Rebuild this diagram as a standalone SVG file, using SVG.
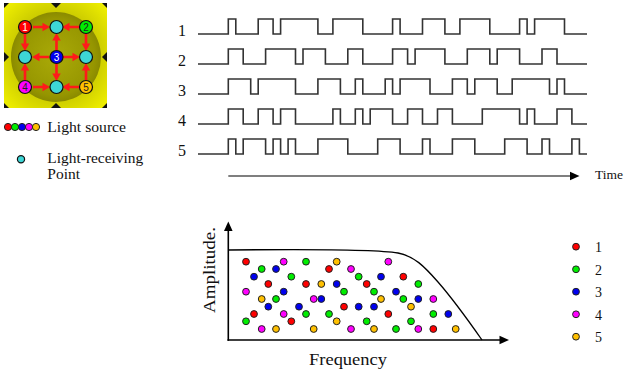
<svg xmlns="http://www.w3.org/2000/svg" width="627" height="375" viewBox="0 0 627 375">
<style>
.sig{fill:none;stroke:#333;stroke-width:1.6;stroke-linejoin:miter}
.lbl{font-family:"Liberation Serif","DejaVu Serif",serif;fill:#111}
.nd{stroke:#111;stroke-width:1.2}
.rx{fill:#3dd6d6;stroke:#111;stroke-width:1.2}
.dot{stroke:#222;stroke-width:1}
.r{fill:#ff0000}.g{fill:#00ee00}.b{fill:#0000ee}.m{fill:#ff00ff}.o{fill:#ffc000}
.nt{font-family:"Liberation Sans",Arial,sans-serif;font-size:10px;text-anchor:middle}
.ax{stroke:#000;stroke-width:1.6;fill:none}
</style>
<defs>
<radialGradient id="bg" cx="50%" cy="50%" r="70%">
<stop offset="0" stop-color="#a8a800"/>
<stop offset="0.55" stop-color="#c8c800"/>
<stop offset="1" stop-color="#f2f200"/>
</radialGradient>
<radialGradient id="cg" cx="50%" cy="50%" r="50%">
<stop offset="0" stop-color="#aaaa08"/>
<stop offset="0.85" stop-color="#969600"/>
<stop offset="1" stop-color="#8a8a00"/>
</radialGradient>
<path id="ar" d="M-8,-1.3 H1.5 V-4.2 L9,0 L1.5,4.2 V1.3 H-8 Z" fill="#ff1a1a"/>
</defs>

<g id="panel">
<rect x="4" y="3" width="103" height="105" fill="url(#bg)"/>
<circle cx="56" cy="57" r="45" fill="url(#cg)"/>
<g fill="#111">
<path d="M51,3 L61,3 L56,8 Z"/>
<path d="M51,108 L61,108 L56,103 Z"/>
<path d="M4,52 L4,62 L9,57 Z"/>
<path d="M107,52 L107,62 L102,57 Z"/>
<path d="M4,3 L9,3 L4,8 Z"/>
<path d="M107,3 L102,3 L107,8 Z"/>
<path d="M4,108 L9,108 L4,103 Z"/>
<path d="M107,108 L102,108 L107,103 Z"/>
</g>
</g>

<g id="connectors">
<use href="#ar" transform="translate(41,27)"/>
<use href="#ar" transform="translate(71,27) rotate(180)"/>
<use href="#ar" transform="translate(25,42) rotate(90)"/>
<use href="#ar" transform="translate(86,42) rotate(90)"/>
<use href="#ar" transform="translate(56.5,42) rotate(-90)"/>
<use href="#ar" transform="translate(56.5,72) rotate(90)"/>
<use href="#ar" transform="translate(41,57) rotate(180)"/>
<use href="#ar" transform="translate(71,57)"/>
<use href="#ar" transform="translate(25,72) rotate(-90)"/>
<use href="#ar" transform="translate(41,87)"/>
<use href="#ar" transform="translate(86,72) rotate(-90)"/>
<use href="#ar" transform="translate(71,87) rotate(180)"/>
</g>

<g id="rx1"><circle class="rx" cx="56.5" cy="27" r="6.5"/></g>
<g id="rx2"><circle class="rx" cx="25" cy="57" r="6.5"/></g>
<g id="rx3"><circle class="rx" cx="86" cy="57" r="6.5"/></g>
<g id="rx4"><circle class="rx" cx="56.5" cy="87" r="6.5"/></g>
<g id="src1"><circle class="nd r" cx="25" cy="27" r="6.5"/><text class="nt" x="25" y="30.5" fill="#fff">1</text></g>
<g id="src2"><circle class="nd g" cx="86" cy="27" r="6.5"/><text class="nt" x="86" y="30.5" fill="#222">2</text></g>
<g id="src3"><circle class="nd b" cx="56.5" cy="57" r="6.5"/><text class="nt" x="56.5" y="60.5" fill="#fff">3</text></g>
<g id="src4"><circle class="nd m" cx="25" cy="87" r="6.5"/><text class="nt" x="25" y="90.5" fill="#222">4</text></g>
<g id="src5"><circle class="nd o" cx="86" cy="87" r="6.5"/><text class="nt" x="86" y="90.5" fill="#222">5</text></g>

<g id="legend">
<circle class="dot r" cx="8" cy="127" r="3.6"/>
<circle class="dot g" cx="15" cy="127" r="3.6"/>
<circle class="dot b" cx="22" cy="127" r="3.6"/>
<circle class="dot m" cx="29" cy="127" r="3.6"/>
<circle class="dot o" cx="36" cy="127" r="3.6"/>
<text class="lbl" x="47.3" y="131.5" font-size="14.5" textLength="78.7" lengthAdjust="spacingAndGlyphs">Light source</text>
<circle class="rx" cx="21" cy="159.3" r="3.6" stroke-width="1"/>
<text class="lbl" x="47.3" y="163.3" font-size="14.5" textLength="96" lengthAdjust="spacingAndGlyphs">Light-receiving</text>
<text class="lbl" x="47.3" y="178.5" font-size="14.5" textLength="32.7" lengthAdjust="spacingAndGlyphs">Point</text>
</g>

<g id="signals">
<text class="lbl" x="182" y="36" font-size="16" text-anchor="middle">1</text>
<text class="lbl" x="182" y="66" font-size="16" text-anchor="middle">2</text>
<text class="lbl" x="182" y="96" font-size="16" text-anchor="middle">3</text>
<text class="lbl" x="182" y="126" font-size="16" text-anchor="middle">4</text>
<text class="lbl" x="182" y="156" font-size="16" text-anchor="middle">5</text>
<path class="sig" d="M198,34 H228.3 V19 H235.8 V34 H258.2 V19 H273.1 V34 H280.6 V19 H317.9 V34 H332.9 V19 H362.8 V34 H392.6 V19 H400.1 V34 H422.5 V19 H444.9 V34 H459.9 V19 H489.8 V34 H519.6 V19 H527.1 V34 H534.6 V19 H564.5 V34 H587"/>
<path class="sig" d="M198,64 H228.3 V49 H243.2 V64 H265.6 V49 H295.5 V64 H303.0 V49 H325.4 V64 H347.8 V49 H362.8 V64 H392.6 V49 H407.6 V64 H415.1 V49 H444.9 V64 H467.3 V49 H489.8 V64 H497.2 V49 H519.6 V64 H542.0 V49 H557.0 V64 H587"/>
<path class="sig" d="M198,94 H228.3 V79 H250.7 V94 H258.2 V79 H295.5 V94 H317.9 V79 H340.4 V94 H355.3 V79 H362.8 V94 H385.2 V79 H392.6 V94 H400.1 V79 H430.0 V94 H452.4 V79 H467.3 V94 H474.8 V79 H497.2 V94 H512.2 V79 H549.5 V94 H557.0 V79 H564.5 V94 H587"/>
<path class="sig" d="M198,124 H228.3 V109 H243.2 V124 H258.2 V109 H273.1 V124 H280.6 V109 H295.5 V124 H332.9 V109 H340.4 V124 H355.3 V109 H362.8 V124 H370.2 V109 H392.6 V124 H407.6 V109 H422.5 V124 H437.5 V109 H452.4 V124 H482.3 V109 H519.6 V124 H527.1 V109 H534.6 V124 H557.0 V109 H571.9 V124 H587"/>
<path class="sig" d="M198,154 H228.3 V139 H235.8 V154 H243.2 V139 H265.6 V154 H273.1 V139 H280.6 V154 H288.1 V139 H295.5 V154 H317.9 V139 H347.8 V154 H377.7 V139 H400.1 V154 H422.5 V139 H430.0 V154 H452.4 V139 H474.8 V154 H504.7 V139 H527.1 V154 H542.0 V139 H549.5 V154 H571.9 V139 H579.4 V154 H587"/>
<line x1="228.3" y1="176" x2="571" y2="176" stroke="#000" stroke-width="1.2"/>
<path d="M579.5,176 L570,171.8 L570,180.2 Z" fill="#000"/>
<text class="lbl" x="595" y="179" font-size="13" textLength="28" lengthAdjust="spacingAndGlyphs">Time</text>
</g>

<g id="plot">
<line class="ax" x1="228.3" y1="340.8" x2="228.3" y2="230"/>
<path d="M228.3,221.5 L224,231 L232.6,231 Z" fill="#000"/>
<line class="ax" x1="227.5" y1="340" x2="500" y2="340"/>
<path d="M509,340 L499.5,335.7 L499.5,344.3 Z" fill="#000"/>
<path d="M228.3,250 C320,249 380,250 398,253 C414,256 424,266 438,282 C452,298 468,320 482,340" fill="none" stroke="#000" stroke-width="1.3"/>
<text class="lbl" transform="translate(215,270) rotate(-90)" font-size="17" text-anchor="middle" textLength="86" lengthAdjust="spacingAndGlyphs">Amplitude.</text>
<text class="lbl" x="348" y="365" font-size="17" text-anchor="middle" textLength="78" lengthAdjust="spacingAndGlyphs">Frequency</text>
<g>
<circle class="dot r" cx="246" cy="261.7" r="3.4"/>
<circle class="dot m" cx="283.7" cy="261.7" r="3.4"/>
<circle class="dot g" cx="306" cy="261.7" r="3.4"/>
<circle class="dot o" cx="336.7" cy="261.7" r="3.4"/>
<circle class="dot m" cx="388.3" cy="261.7" r="3.4"/>
<circle class="dot g" cx="261.7" cy="269" r="3.4"/>
<circle class="dot b" cx="276" cy="269" r="3.4"/>
<circle class="dot r" cx="329" cy="269" r="3.4"/>
<circle class="dot m" cx="351" cy="269" r="3.4"/>
<circle class="dot b" cx="254" cy="276.7" r="3.4"/>
<circle class="dot g" cx="291.3" cy="276.7" r="3.4"/>
<circle class="dot g" cx="358.7" cy="276.7" r="3.4"/>
<circle class="dot b" cx="381" cy="276.7" r="3.4"/>
<circle class="dot r" cx="403.3" cy="276.7" r="3.4"/>
<circle class="dot r" cx="268.3" cy="284" r="3.4"/>
<circle class="dot r" cx="306" cy="284" r="3.4"/>
<circle class="dot o" cx="321.3" cy="284" r="3.4"/>
<circle class="dot b" cx="336.7" cy="284" r="3.4"/>
<circle class="dot r" cx="366.7" cy="284" r="3.4"/>
<circle class="dot g" cx="418.3" cy="284" r="3.4"/>
<circle class="dot m" cx="246" cy="291.7" r="3.4"/>
<circle class="dot b" cx="283.7" cy="291.7" r="3.4"/>
<circle class="dot g" cx="344" cy="291.7" r="3.4"/>
<circle class="dot g" cx="374" cy="291.7" r="3.4"/>
<circle class="dot b" cx="396" cy="291.7" r="3.4"/>
<circle class="dot o" cx="261.7" cy="299" r="3.4"/>
<circle class="dot g" cx="276" cy="299" r="3.4"/>
<circle class="dot m" cx="313.7" cy="299" r="3.4"/>
<circle class="dot b" cx="321.3" cy="299" r="3.4"/>
<circle class="dot o" cx="381" cy="299" r="3.4"/>
<circle class="dot g" cx="403.3" cy="299" r="3.4"/>
<circle class="dot b" cx="418.3" cy="299" r="3.4"/>
<circle class="dot m" cx="433.3" cy="299" r="3.4"/>
<circle class="dot b" cx="268.3" cy="306.7" r="3.4"/>
<circle class="dot b" cx="299" cy="306.7" r="3.4"/>
<circle class="dot r" cx="344" cy="306.7" r="3.4"/>
<circle class="dot b" cx="358.7" cy="306.7" r="3.4"/>
<circle class="dot b" cx="374" cy="306.7" r="3.4"/>
<circle class="dot o" cx="411" cy="306.7" r="3.4"/>
<circle class="dot r" cx="254" cy="314" r="3.4"/>
<circle class="dot m" cx="283.7" cy="314" r="3.4"/>
<circle class="dot g" cx="306" cy="314" r="3.4"/>
<circle class="dot g" cx="329" cy="314" r="3.4"/>
<circle class="dot r" cx="388.3" cy="314" r="3.4"/>
<circle class="dot g" cx="433.3" cy="314" r="3.4"/>
<circle class="dot b" cx="448.3" cy="314" r="3.4"/>
<circle class="dot g" cx="246" cy="321.3" r="3.4"/>
<circle class="dot r" cx="291.3" cy="321.3" r="3.4"/>
<circle class="dot o" cx="336.7" cy="321.3" r="3.4"/>
<circle class="dot g" cx="366.7" cy="321.3" r="3.4"/>
<circle class="dot g" cx="411" cy="321.3" r="3.4"/>
<circle class="dot m" cx="261.7" cy="329" r="3.4"/>
<circle class="dot o" cx="276" cy="329" r="3.4"/>
<circle class="dot o" cx="313.7" cy="329" r="3.4"/>
<circle class="dot m" cx="351" cy="329" r="3.4"/>
<circle class="dot o" cx="374" cy="329" r="3.4"/>
<circle class="dot g" cx="396" cy="329" r="3.4"/>
<circle class="dot m" cx="418.3" cy="329" r="3.4"/>
<circle class="dot r" cx="433.3" cy="329" r="3.4"/>
<circle class="dot o" cx="455.7" cy="329" r="3.4"/>
</g>
</g>

<g id="plotlegend">
<circle class="dot r" cx="576" cy="246.7" r="3.4"/>
<circle class="dot g" cx="576" cy="269.3" r="3.4"/>
<circle class="dot b" cx="576" cy="291.7" r="3.4"/>
<circle class="dot m" cx="576" cy="314.3" r="3.4"/>
<circle class="dot o" cx="576" cy="336.7" r="3.4"/>
<text class="lbl" x="595" y="252" font-size="14">1</text>
<text class="lbl" x="595" y="274.5" font-size="14">2</text>
<text class="lbl" x="595" y="297" font-size="14">3</text>
<text class="lbl" x="595" y="319.5" font-size="14">4</text>
<text class="lbl" x="595" y="342" font-size="14">5</text>
</g>
</svg>
